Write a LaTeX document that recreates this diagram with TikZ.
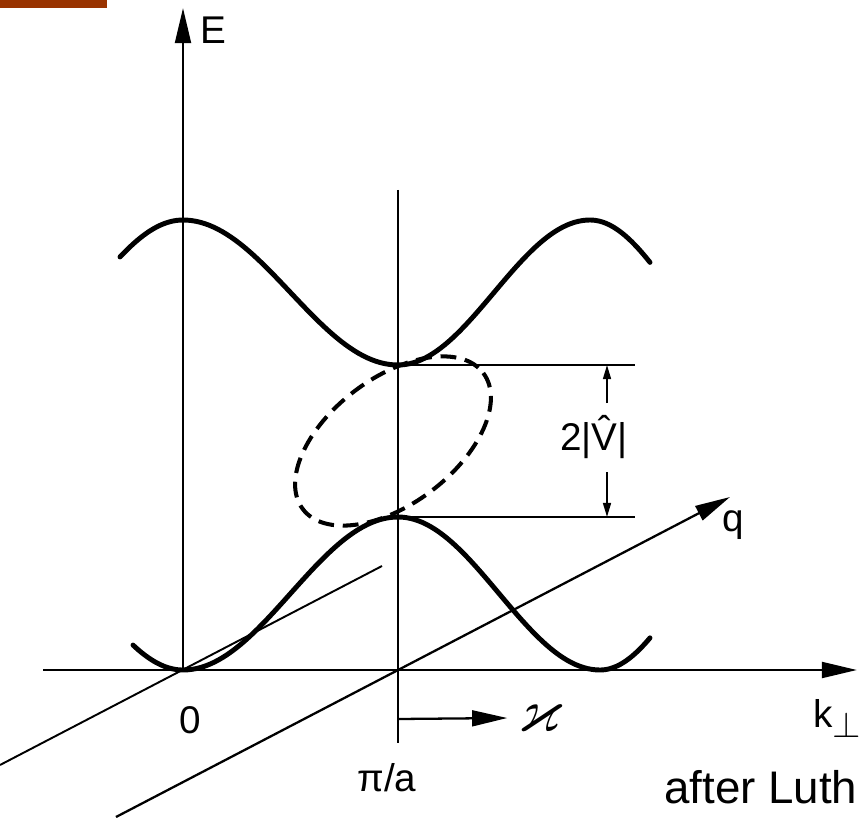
\documentclass[tikz,border=0pt]{standalone}
\usepackage{amsmath, amssymb}
\usepackage{graphicx}
\usepackage{fontspec}
\setmainfont{Liberation Sans}
\usepackage{xcolor}
\usepackage{tikz}
\usetikzlibrary{arrows.meta, positioning, calc}
\definecolor{brickbar}{RGB}{153,51,0}

\begin{document}
\begin{tikzpicture}[x=0.02cm, y=-0.02cm,
    band/.style={line width=2.8pt, line cap=round},
    axis/.style={line width=1.5pt, -{Triangle[length=20pt, width=9pt]}},
    guide/.style={line width=1.1pt},
    dimline/.style={line width=1pt, -{Triangle[length=8pt, width=4.5pt]}},
    loop/.style={line width=2.3pt, dash pattern=on 9pt off 5pt},
    lbl/.style={font=\fontsize{22}{24}\selectfont, inner sep=0pt}]
    \useasboundingbox (0,0) rectangle (864,817);

    % 左上角色条
    \fill[brickbar] (0,0) rectangle (107,8);

    % 关键点
    \coordinate (O) at (183,670);
    \coordinate (Etop) at (183,8);
    \coordinate (kleft) at (43,670);
    \coordinate (kend) at (857,670);
    \coordinate (Ptop) at (398,190);
    \coordinate (Pbot) at (398,743);
    \coordinate (qstart) at (116,817);
    \coordinate (qend) at (730,497);
    \coordinate (pstart) at (0,765);
    \coordinate (pend) at (382,566);
    \coordinate (gapT) at (398,365);
    \coordinate (gapB) at (398,517);
    \coordinate (gapTr) at (635,365);
    \coordinate (gapBr) at (635,517);
    \coordinate (dimT) at (607,403);
    \coordinate (dimB) at (607,472);
    \coordinate (kapstart) at (398,719);

    % 坐标轴
    \draw[axis] (O) -- (Etop);
    \draw[axis] (kleft) -- (kend);
    \draw[guide] (Ptop) -- (Pbot);
    \draw[axis, line width=1.3pt] (qstart) -- (qend);
    \draw[guide] (pstart) -- (pend);

    % 能带
    \draw[band] plot[domain=120:183, samples=20] (\x, {292.5-72.5*cos((\x-183)/187*180)})
        -- plot[domain=183:398, samples=50] (\x, {292.5-72.5*cos((\x-183)/215*180)})
        -- plot[domain=398:590, samples=50] (\x, {292.5-72.5*cos((\x-590)/192*180)})
        -- plot[domain=590:650, samples=20] (\x, {292.5-72.5*cos((\x-590)/165*180)});
    \draw[band] plot[domain=133:183, samples=20] (\x, {593.5+76.5*cos((\x-183)/189*180)})
        -- plot[domain=183:398, samples=50] (\x, {593.5+76.5*cos((\x-183)/215*180)})
        -- plot[domain=398:600, samples=50] (\x, {593.5+76.5*cos((\x-600)/202*180)})
        -- plot[domain=600:650, samples=20] (\x, {593.5+76.5*cos((\x-600)/165*180)});

    % 虚线环
    \draw[loop, rotate around={37:(393,441)}] (393,441) ellipse [x radius=113, y radius=63];

    % 能隙
    \draw[guide] (gapT) -- (gapTr);
    \draw[guide] (gapB) -- (gapBr);
    \node[lbl] (gap) at (594,437) {2|\^{V}|};
    \draw[dimline] (dimT) -- (dimT |- gapT);
    \draw[dimline] (dimB) -- (dimB |- gapB);

    % 标注
    \node[lbl] (Elab) at (213,30) {E};
    \node[lbl] (zero) at (190,720) {0};
    \node[lbl] (pia) at (387,778) {π/a};
    \node[lbl] (kap) at (540,718) {\scalebox{1.6}{$\varkappa$}};
    \node[lbl] (qlab) at (733,525) {q};
    \node[lbl, anchor=base west] (klab) at (813,727) {k\raisebox{-6pt}{$\perp$}};
    \draw[axis, line width=1.3pt] (kapstart) -- ([xshift=-6pt]kap.west);
    \node[font=\fontsize{26}{28}\selectfont, anchor=base west, inner sep=0pt] (credit) at (664,803) {after Luth};
\end{tikzpicture}
\end{document}
